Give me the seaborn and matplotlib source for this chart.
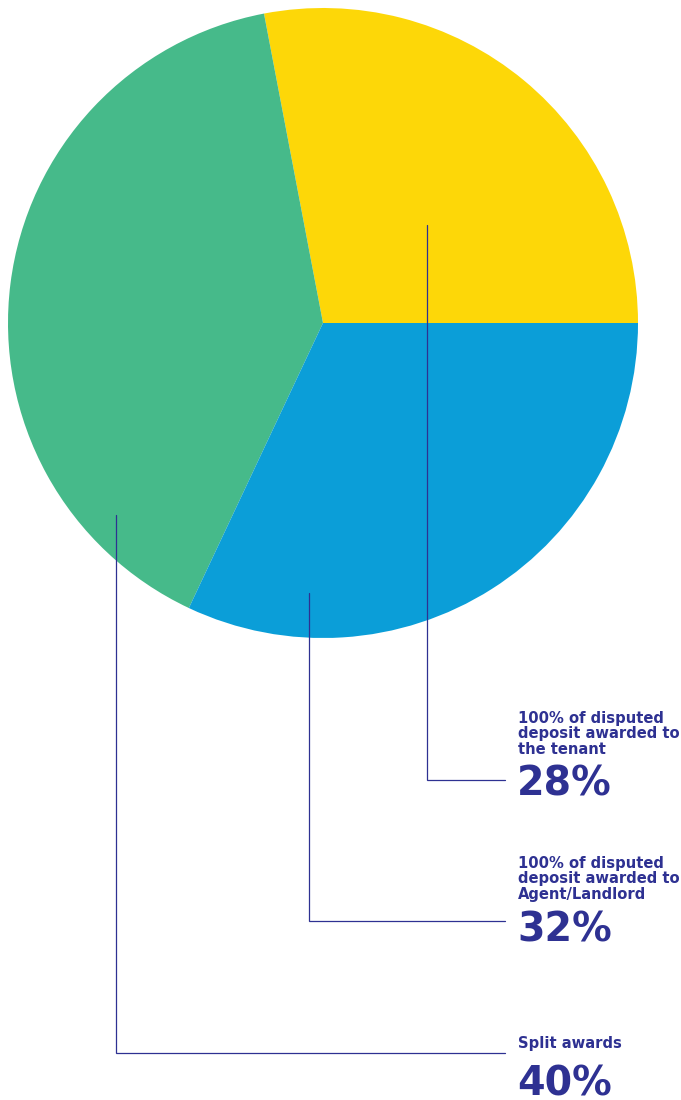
import matplotlib
matplotlib.use("Agg")
import matplotlib.pyplot as plt
import seaborn as sns

# Outcome shares of disputed deposits
categories = ["100% of disputed\ndeposit awarded to\nthe tenant",
              "Split awards",
              "100% of disputed\ndeposit awarded to\nAgent/Landlord"]
shares = [28, 40, 32]
colors = ["#FDD708", "#46BA8A", "#0B9ED8"]
value_labels = ["28%", "40%", "32%"]

sns.set_theme(style="white")
plt.rcParams["font.family"] = ["DejaVu Sans"]

navy = "#2E3192"

fig = plt.figure(figsize=(6.81, 11.0), dpi=100)
ax = fig.add_axes([0, 0, 1, 1])

cx, cy, r = 323, 323, 315
wedges, _ = ax.pie(shares, colors=colors, startangle=0, counterclock=False,
                   center=(cx, cy), radius=r, frame=True,
                   wedgeprops=dict(linewidth=0))
ax.set_xlim(0, 681)
ax.set_ylim(1100, 0)
ax.set_aspect("equal")
ax.axis("off")

# Leader lines: anchor inside wedge -> down -> right to label
anchors = [(427, 225), (116, 515), (309, 593)]
label_y = [780, 1053, 921]
text_x = 518
for (ax0, ay0), ly in zip(anchors, label_y):
    ax.plot([ax0, ax0, 505], [ay0, ly, ly], color=navy, lw=0.9,
            solid_joinstyle="miter")

# Label blocks
title_top = [711, 1036, 856]
big_top = [765, 1064, 911]
for cat, val, tt, bt in zip(categories, value_labels, title_top, big_top):
    ax.text(text_x, tt, cat, color=navy, fontsize=10.6, fontweight="bold",
            va="top", ha="left", linespacing=1.04)
    ax.text(text_x - 1, bt, val, color=navy, fontsize=28.5, fontweight="bold",
            va="top", ha="left")

fig.savefig("out.png", dpi=100)
